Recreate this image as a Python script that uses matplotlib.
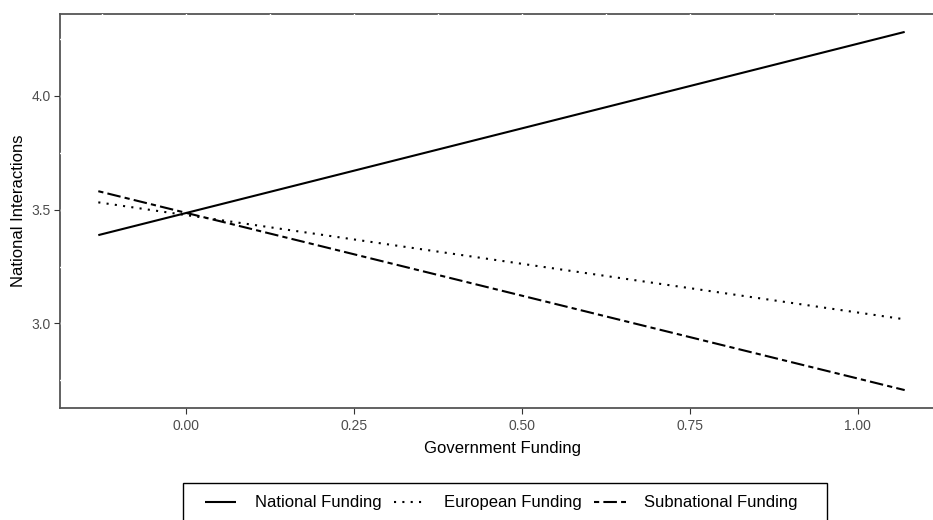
import matplotlib
matplotlib.use("Agg")
import matplotlib.pyplot as plt
from matplotlib.lines import Line2D
from matplotlib.patches import Rectangle
import numpy as np

plt.rcParams['font.family'] = ['Liberation Sans', 'DejaVu Sans']

# Predicted national interactions at the ends of the observed funding range
funding_range = [-0.13, 1.07]
series_names = ["National Funding", "European Funding", "Subnational Funding"]
national = [3.388, 4.281]
european = [3.532, 3.018]
subnational = [3.581, 2.707]
x_ticks = [0.00, 0.25, 0.50, 0.75, 1.00]
x_tick_labels = ["0.00", "0.25", "0.50", "0.75", "1.00"]
y_ticks = [3.0, 3.5, 4.0]
y_tick_labels = ["3.0", "3.5", "4.0"]

LW = 1.5
styles = {
    "National Funding": dict(linestyle="-"),
    "European Funding": dict(linestyle=(0, (1, 3))),
    "Subnational Funding": dict(linestyle=(0, (2.5, 2, 6.5, 2))),
}

W, H = 933, 520
fig = plt.figure(figsize=(W / 100, H / 100), dpi=100)
left, right, top, bottom = 60, 945, 14, 408
ax = fig.add_axes([left / W, 1 - bottom / H, (right - left) / W, (bottom - top) / H])

for name, vals in zip(series_names, [national, european, subnational]):
    ax.plot(funding_range, vals, color="black", lw=LW, solid_capstyle="butt",
            dash_capstyle="butt", zorder=3, **styles[name])

# ggplot-style 5% expansion of the data range
xs = np.array(funding_range)
ally = np.array(national + european + subnational)
xr = xs.max() - xs.min()
yr = ally.max() - ally.min()
ax.set_xlim(-0.187, xs.max() + 0.05 * xr)
ax.set_ylim(ally.min() - 0.05 * yr, ally.max() + 0.05 * yr)

ax.set_xticks(x_ticks)
ax.set_xticklabels(x_tick_labels)
ax.set_yticks(y_ticks)
ax.set_yticklabels(y_tick_labels)
ax.set_xticks([-0.125, 0.125, 0.375, 0.625, 0.875, 1.125], minor=True)
ax.set_yticks([2.75, 3.25, 3.75, 4.25], minor=True)
ax.tick_params(which="major", length=4, width=0.8, color="#333333",
               labelcolor="#4D4D4D", labelsize=10, pad=2.5)
ax.tick_params(axis="x", which="major", pad=4)
ax.tick_params(which="minor", length=0)

# White grid lines, visible only where they cross the panel outline
ax.grid(which="both", color="white", linewidth=1.0)
ax.set_axisbelow(False)
for side in ["left", "top"]:
    ax.spines[side].set_zorder(0.5)
for side in ["left", "top", "bottom", "right"]:
    ax.spines[side].set_color("#555555")
    ax.spines[side].set_linewidth(1.3)
ax.spines["bottom"].set_zorder(4)

ax.set_xlabel("Government Funding", fontsize=12, color="black", labelpad=6)
ax.set_ylabel("National Interactions", fontsize=12, color="black", labelpad=4)

handles = [Line2D([], [], color="black", lw=LW, solid_capstyle="butt",
                  dash_capstyle="butt", **styles[n]) for n in series_names]
leg = fig.legend(handles, series_names, loc="center",
                 bbox_to_anchor=(501 / W, 1 - 503 / H), ncol=3,
                 fontsize=12, frameon=False,
                 handlelength=1.9, handletextpad=1.1, columnspacing=0.75,
                 borderpad=0, borderaxespad=0)

# Legend frame
fig.patches.append(Rectangle((183 / W, 1 - 526 / H), (827 - 183) / W, (526 - 483) / H,
                             transform=fig.transFigure, fill=False,
                             edgecolor="black", linewidth=1.0))

fig.savefig("out.png", dpi=100)
